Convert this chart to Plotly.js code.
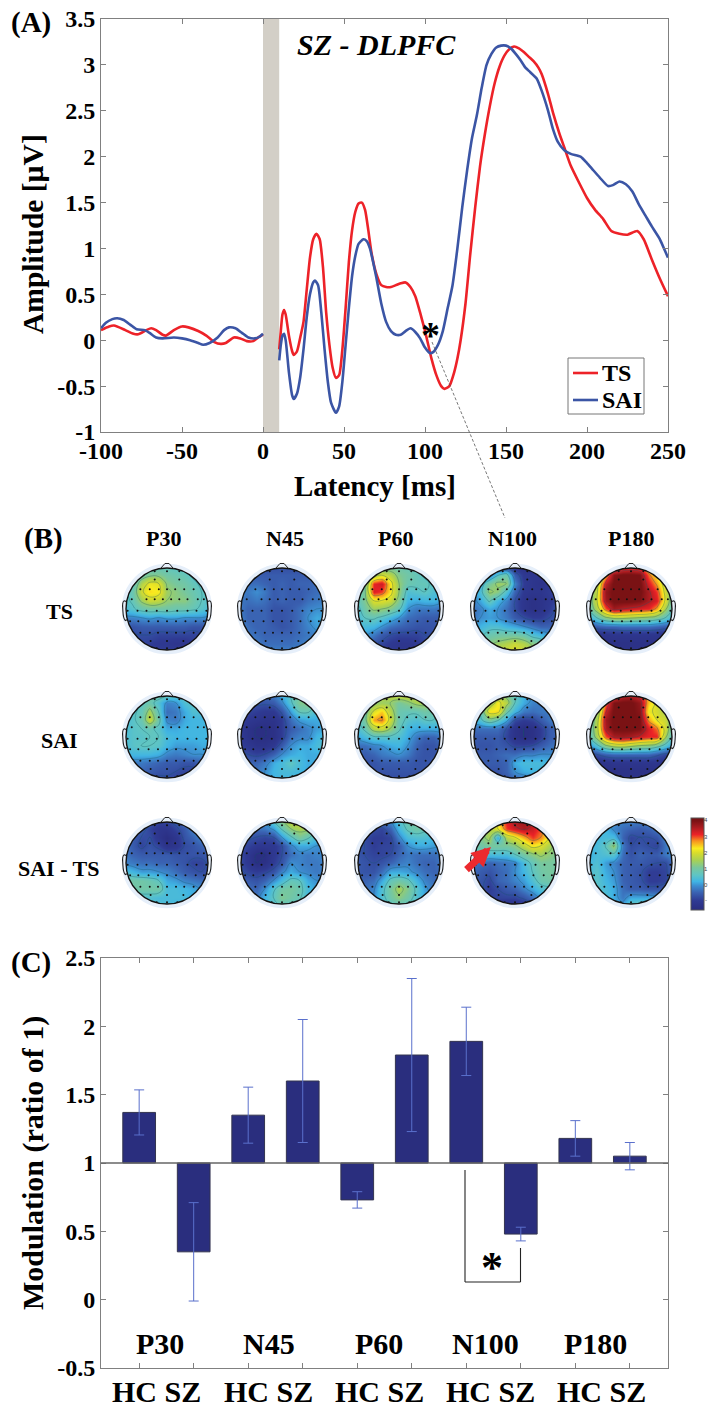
<!DOCTYPE html>
<html><head><meta charset="utf-8">
<script src="https://cdn.plot.ly/plotly-3.0.1.min.js"></script>
<style>html,body{margin:0;padding:0;background:#fff}</style></head>
<body><div id="chart" style="width:708px;height:1410px"></div>
<script>
// ---------- Panel A data ----------
const tsPreX=[-100,-95,-92,-85,-80,-77,-72,-69,-66,-62,-60,-55,-50,-46,-40,-35,-30,-26,-23,-18,-14,-10,-6,-3,0];
const tsPreY=[.11,.15,.16,.11,.07,.065,.11,.13,.11,.06,.05,.11,.15,.14,.10,.05,-.02,-.04,-.03,.03,.02,-.01,-.01,.03,.06];
const saiPreX=[-100,-97,-93,-90,-86,-82,-78,-73,-70,-66,-62,-55,-50,-45,-40,-37,-33,-28,-24,-21,-17,-13,-9,-5,-2,0];
const saiPreY=[.13,.19,.23,.24,.22,.17,.12,.11,.08,.03,.02,.03,.02,0,-.03,-.05,-.03,.03,.11,.14,.13,.08,.03,.02,.04,.07];
const tsPostX=[10,11,12,13,14,16,18,19,21,23,25,27,29,31,33,35,37,39,41,43,45,47,49,51,53,55,57,59,61,63,65,67,70,73,76,79,82,85,88,91,94,97,100,102,104,107,110,112,115,118,120,122,125,128,131,134,137,140,143,146,149,152,155,158,161,164,167,170,172,176,179,183,186,190,195,200,205,210,215,220,225,231,235,240,245,250];
const tsPostY=[-.1,.1,.28,.33,.28,.05,-.12,-.16,-.12,.03,.2,.55,.9,1.1,1.16,1.1,.8,.3,-.05,-.3,-.41,-.38,-.1,.35,.85,1.2,1.4,1.49,1.5,1.42,1.2,.95,.72,.6,.58,.58,.6,.62,.63,.58,.48,.3,.1,-.05,-.2,-.38,-.5,-.53,-.5,-.35,-.2,0,.4,.95,1.45,1.9,2.25,2.55,2.8,2.98,3.1,3.17,3.2,3.18,3.14,3.09,3.04,2.97,2.9,2.68,2.48,2.25,2.1,1.9,1.72,1.55,1.42,1.32,1.19,1.16,1.15,1.19,1.1,.88,.67,.48];
const saiPostX=[10,11,12,13,14,16,18,19,21,23,25,27,29,31,32,34,36,38,40,42,45,47,49,51,53,55,57,59,62,64,66,68,70,73,76,79,82,85,88,91,94,97,100,103,105,108,111,114,117,120,123,126,129,132,135,138,141,144,147,150,153,156,159,162,165,169,172,176,179,182,186,190,196,200,203,208,213,216,220,224,228,232,236,240,245,248,250];
const saiPostY=[-.22,-.05,.05,.07,0,-.35,-.6,-.64,-.58,-.4,-.1,.25,.5,.63,.65,.6,.3,-.1,-.45,-.68,-.79,-.72,-.45,-.05,.35,.7,.92,1.05,1.1,1.08,1,.85,.68,.4,.2,.1,.06,.06,.1,.13,.09,.02,-.08,-.14,-.13,-.05,.1,.35,.6,1,1.45,1.85,2.2,2.45,2.75,3,3.12,3.19,3.21,3.21,3.18,3.12,3.05,2.97,2.92,2.85,2.72,2.5,2.3,2.16,2.07,2.03,2,1.93,1.87,1.77,1.68,1.69,1.73,1.7,1.62,1.48,1.36,1.24,1.1,.98,.9];
const aYTicks=[-1,-.5,0,.5,1,1.5,2,2.5,3,3.5];
const aYLabels=['-1','-0.5','0','0.5','1','1.5','2','2.5','3','3.5'];
const aXTicks=[-100,-50,0,50,100,150,200,250];
const aXLabels=['-100','-50','0','50','100','150','200','250'];

// ---------- Panel C data ----------
const barPositions=[1,2,3,4,5,6,7,8,9,10];
const barValues=[1.37,.35,1.35,1.6,.73,1.79,1.89,.48,1.18,1.05];
const barErrors=[.165,.36,.205,.45,.06,.56,.25,.05,.13,.10];
const cYTicks=[-.5,0,.5,1,1.5,2,2.5];
const cYLabels=['-0.5','0','0.5','1','1.5','2','2.5'];
const components=['P30','N45','P60','N100','P180'];
const conditions=['TS','SAI','SAI - TS'];
const colorbarTicks=['4','3','2','1','0','-'];

// ---------- Panel B scalp maps (rows top to bottom, left to right, µV) ----------
const ts_p30=[[.3,.3,.4,.5,.6,.6,.5,.4,.3,.3,.3],[.3,.3,.8,1.1,1.1,.9,.8,.7,.5,.3,.2],[.3,.6,1.6,2.1,2,1.2,1,.9,.7,.5,.3],[.4,.8,1.9,2.3,2.2,1.4,1.2,1,.8,.6,.4],[.4,.7,1.4,1.8,1.7,1.3,1.2,1.2,.9,.6,.4],[.3,.5,.8,.9,.9,.9,.8,.8,.7,.5,.3],[-.2,-.2,-.1,0,-.1,0,0,-.1,-.1,-.1,-.2],[-.6,-.7,-.6,-.6,-.6,-.6,-.6,-.6,-.7,-.7,-.7],[-.7,-.8,-.8,-.8,-.9,-.9,-.9,-.9,-.9,-.8,-.7],[-.7,-.8,-.9,-1,-1.1,-1.1,-1.2,-1.2,-1,-.8,-.7],[-.7,-.8,-.9,-1,-1,-1,-1,-1,-.9,-.8,-.7]];
const ts_n45=[[-.8,-.8,-.8,-.8,-.8,-.8,-.8,-.8,-.8,-.8,-.8],[-.5,-.6,-.6,-.6,-.6,-.6,-.6,-.6,-.6,-.5,-.5],[-.3,-.4,-.4,-.5,-.6,-.5,-.6,-.5,-.5,-.4,-.3],[-.2,-.3,-.1,-.3,-.6,-.5,-.6,-.6,-.5,-.4,-.3],[-.3,-.4,-.3,-.4,-.6,-.5,-.6,-.6,-.4,-.3,-.2],[-.3,-.5,-.5,-.5,-.7,-.7,-.6,-.4,-.2,-.1,-.1],[-.2,-.5,-.5,-.5,-.7,-.7,-.6,-.4,-.1,.1,0],[-.1,-.4,-.5,-.5,-.6,-.7,-.6,-.4,-.2,0,0],[0,-.3,-.4,-.5,-.5,-.5,-.5,-.4,-.3,-.2,-.1],[0,-.2,-.3,-.4,-.4,-.4,-.4,-.3,-.2,-.1,0],[-.2,-.2,-.2,-.3,-.2,-.2,-.2,-.3,-.2,-.2,-.2]];
const ts_p60=[[.3,.4,.6,.7,.8,.8,.7,.5,.3,.2,.2],[.3,.6,1.4,1.9,1.6,1.1,.9,.7,.5,.3,.2],[.5,1,3.1,3.3,2.2,1.3,.8,.7,.7,.5,.2],[.5,1.1,3.2,3,2.2,1.3,.4,.5,.6,.4,.2],[.5,1.1,2,2,1.8,1.1,.2,.1,.2,.2,0],[.3,.9,1.4,1.3,1.1,.7,-.1,-.3,-.3,-.3,-.4],[.2,.6,.7,.5,.2,-.1,-.4,-.5,-.6,-.6,-.6],[.2,.3,.2,-.1,-.4,-.5,-.6,-.7,-.7,-.7,-.7],[0,0,-.3,-.6,-.8,-.9,-.9,-.9,-.8,-.7,-.7],[-.4,-.4,-.7,-.9,-1.1,-1.2,-1.2,-1.1,-.9,-.8,-.7],[-.7,-.7,-.8,-1,-1.2,-1.2,-1.2,-1.1,-.9,-.8,-.7]];
const ts_n100=[[-.8,-.9,-1,-1,-1.2,-1.4,-1.4,-1.4,-1.2,-1,-.8],[-.3,-.3,-.3,.5,.8,-.6,-1.1,-1.2,-1.2,-1,-.8],[-.2,.2,1,1.4,1.3,-.2,-1,-1.2,-1.3,-1.1,-.8],[-.2,.4,1.4,1.2,.4,-.5,-1.1,-1.2,-1.2,-1,-.8],[-.3,.1,.7,.2,-.2,-.8,-1.2,-1.4,-1.3,-1.1,-.8],[-.4,-.2,.1,-.1,-.4,-.8,-1.2,-1.4,-1.3,-1,-.7],[-.4,-.1,0,-.1,-.3,-.6,-.8,-1,-1,-.8,-.6],[-.1,.2,.4,.4,.2,.1,-.1,-.3,-.5,-.5,-.5],[.4,.5,.8,.9,.9,.9,.8,.4,.2,0,-.2],[.9,1,1.2,1.4,1.6,1.8,1.6,1.2,1,.5,.2],[1.2,1.4,1.5,1.7,1.9,2,1.8,1.5,1.2,.8,.4]];
const ts_p180=[[0,.4,1.2,2,2.6,2.8,2.6,2.2,1.5,.6,.2],[.2,1,2.5,3.8,4,4,3.9,2.8,2.2,1.2,.3],[.5,1.6,3.4,4,4,4,4,3.2,2.6,1.6,.5],[.6,1.8,3.7,4,4,4,4,3.5,3,1.8,.6],[.7,1.9,3.6,4,4,4,3.9,3.5,3.2,1.9,.6],[.6,1.6,2.9,3.6,3.4,3.3,3.2,3.1,2.6,1.4,.4],[.1,.6,1.2,1.5,1.5,1.4,1.3,1.2,1,.6,.1],[-.8,-.6,-.5,-.5,-.4,-.4,-.4,-.4,-.5,-.6,-.7],[-1.3,-1.3,-1.3,-1.2,-1.2,-1.2,-1.2,-1.2,-1.2,-1.3,-1.3],[-1.4,-1.4,-1.4,-1.4,-1.4,-1.4,-1.4,-1.4,-1.4,-1.4,-1.4],[-1.4,-1.4,-1.4,-1.4,-1.4,-1.4,-1.4,-1.4,-1.4,-1.4,-1.4]];
const sai_p30=[[.3,.6,.7,.9,1,.9,.7,.6,.4,.3,.2],[.3,.5,.6,.8,.4,-.2,-.1,.4,.5,.4,.3],[.3,.5,.7,1.5,.6,-.4,-.3,.1,.4,.4,.3],[.3,.5,.8,1.8,.8,-.2,-.3,.1,.2,.2,.2],[.3,.5,.6,.7,.5,.1,.1,.2,.2,.2,.2],[.3,.5,.5,.6,.6,.3,.2,.2,.2,.2,.2],[.3,.5,.6,.6,.5,.2,0,0,0,.1,.1],[.2,.2,.2,.2,.1,-.2,-.3,-.2,-.1,-.1,0],[-.3,-.3,-.3,-.4,-.5,-.6,-.6,-.7,-.7,-.5,-.3],[-.4,-.5,-.5,-.6,-.7,-.7,-.8,-.9,-.9,-.7,-.5],[-.5,-.6,-.7,-.8,-.9,-.9,-.9,-.9,-.9,-.7,-.5]];
const sai_n45=[[-.7,-.7,-.5,-.4,-.2,.2,.6,.9,1,.5,.2],[-.8,-.8,-.7,-.7,-.6,-.2,.5,1.1,1.2,.6,.2],[-.8,-.9,-1,-1.1,-1.1,-.7,0,.7,.7,.3,.2],[-.9,-1.1,-1.2,-1.3,-1.3,-1,-.4,0,.1,.1,.1],[-1,-1.3,-1.5,-1.5,-1.4,-1,-.6,-.4,-.2,0,.1],[-1,-1.3,-1.5,-1.5,-1.4,-1,-.4,-.2,-.2,.2,.3],[-.9,-1.1,-1.3,-1.3,-1.1,-.6,-.1,.1,.1,.3,.5],[-.7,-.8,-.9,-.8,-.5,-.1,.1,.2,.1,.1,.2],[-.6,-.5,-.5,-.3,.1,.3,.6,.3,.1,.1,.1],[-.5,-.4,-.3,-.1,.2,.3,.3,.2,.1,0,0],[-.5,-.4,-.3,-.1,.1,.2,.2,.1,0,-.1,-.1]];
const sai_p60=[[.4,.7,1.2,1.6,1.8,1.9,1.9,1.7,1.3,.6,.3],[.4,.7,1.2,1.4,1.3,1,1.2,1.5,1.5,1,.5],[.4,.9,2,2.4,1.6,.8,.7,.7,.9,.8,.4],[.4,1,2.6,2.8,1.8,.8,.5,.4,.6,.6,.4],[.3,.7,1.6,1.8,1.3,.7,.2,.1,.1,.1,.1],[0,.3,.5,.5,.5,.4,.1,-.3,-.5,-.5,-.3],[-.4,-.4,-.2,-.1,.1,.2,-.1,-.5,-.7,-.7,-.5],[-.5,-.6,-.5,-.3,-.2,-.1,-.3,-.6,-.7,-.7,-.5],[-.6,-.7,-.7,-.6,-.6,-.6,-.6,-.7,-.7,-.6,-.5],[-.6,-.7,-.7,-.7,-.7,-.7,-.7,-.7,-.7,-.6,-.5],[-.6,-.7,-.8,-.8,-.8,-.8,-.8,-.8,-.7,-.6,-.5]];
const sai_n100=[[-.2,0,.6,1.2,1,.7,.2,-.1,-.2,-.2,-.2],[-.1,.4,1.4,2.2,1.6,.6,.1,-.2,-.3,-.3,-.2],[0,.7,2.3,2.3,.8,.2,-.3,-.4,-.3,-.3,-.2],[0,.5,1.1,.7,.1,-.8,-1,-.9,-.6,-.3,-.2],[-.4,-.4,-.4,-.4,-.8,-1.3,-1.5,-1.4,-1,-.6,-.4],[-.6,-.6,-.6,-.6,-.9,-1.3,-1.5,-1.4,-1,-.6,-.5],[-.6,-.7,-.7,-.6,-.7,-.9,-.9,-.8,-.6,-.4,-.3],[-.6,-.6,-.6,-.5,-.4,-.4,-.2,-.2,-.1,-.1,-.1],[-.6,-.6,-.6,-.6,-.5,.1,.3,.3,.3,.2,.1],[-.7,-.7,-.7,-.7,-.5,-.1,.1,.2,.2,.1,0],[-.8,-.8,-.8,-.8,-.7,-.5,-.4,-.3,-.2,-.1,-.1]];
const sai_p180=[[0,.5,1.6,2.6,3.2,3.4,3,2.6,1.4,.6,.2],[.2,.8,2.8,3.9,4,4,3.7,2.4,1.9,1,.3],[.3,1.2,3.3,4,4,4,3.8,2.1,1.9,1.5,.4],[.4,1.6,3.6,4,4,4,3.9,2.6,2,1.8,.5],[.5,1.7,3.5,4,4,4,3.9,3.2,2.8,1.8,.5],[.4,1.5,2.9,3.5,3.6,3.5,3.3,3.1,3.1,1.4,.3],[-.2,.4,1.2,1.6,1.7,1.5,1.3,1.2,.9,.4,-.1],[-1,-.8,-.6,-.5,-.5,-.5,-.5,-.5,-.7,-.9,-1],[-1.3,-1.3,-1.3,-1.2,-1.2,-1.2,-1.2,-1.2,-1.2,-1.3,-1.3],[-1.4,-1.4,-1.4,-1.4,-1.4,-1.4,-1.4,-1.4,-1.4,-1.4,-1.4],[-1.4,-1.4,-1.4,-1.4,-1.4,-1.4,-1.4,-1.4,-1.4,-1.4,-1.4]];
const diff_p30=[[-.2,-.2,-.4,-.6,-.8,-.8,-.6,-.4,-.1,.1,.1],[-.3,-.4,-.6,-.9,-1.2,-1.2,-.9,-.6,-.2,0,.1],[-.3,-.6,-.8,-.8,-1.2,-1.5,-1.2,-.7,-.5,-.2,-.1],[-.3,-.6,-.9,-.7,-.9,-1.3,-1.2,-.8,-.7,-.5,-.4],[-.3,-.5,-.6,-.6,-.6,-.6,-.7,-.7,-.7,-.7,-.5],[-.2,-.3,-.4,-.4,-.5,-.5,-.6,-.7,-.9,-.9,-.7],[.4,.2,0,0,-.1,-.2,-.4,-.6,-.7,-.8,-.7],[.9,.9,.9,.8,.6,.1,0,-.2,-.3,-.4,-.4],[.9,.9,.9,.9,.9,.3,.3,.2,.1,-.1,-.1],[.4,.3,.4,.4,.3,.3,.3,.3,.1,0,0],[.1,.2,.4,.6,.4,.3,.2,.2,.1,.1,.1]];
const diff_n45=[[-.3,-.3,-.2,0,.7,1.3,1.8,1.9,1.6,.8,.3],[-.4,-.4,-.4,-.3,0,.7,1.3,1.5,1.4,.7,.3],[-.5,-.7,-.8,-.9,-.8,-.1,.5,1,.7,.3,.2],[-.7,-.9,-1.1,-1.1,-1.1,-.8,-.2,.1,.1,-.1,-.1],[-.8,-1.1,-1.5,-1.5,-1.1,-.8,-.4,-.2,-.3,-.2,-.2],[-.8,-1.1,-1.5,-1.4,-1,-.7,-.1,-.2,-.3,-.3,-.2],[-.7,-.9,-1,-.9,-.7,-.2,.1,-.1,-.2,-.3,-.2],[-.5,-.6,-.7,-.5,-.1,.3,.7,.6,.1,-.1,-.1],[-.4,-.4,-.5,-.1,.5,.9,1,.8,.3,0,-.1],[-.4,-.4,-.3,.2,.6,1.1,.9,.7,.2,0,-.1],[-.4,-.4,-.3,.1,.4,.6,.5,.4,.2,-.1,-.1]];
const diff_p60=[[-.3,-.3,-.2,-.1,0,.5,.8,.8,.6,.3,.1],[-.4,-.6,-.8,-.9,-.5,.2,.7,.9,.7,.3,.1],[-.5,-.8,-1,-1,-.9,-.2,.3,.4,.4,.2,.1],[-.6,-.8,-1,-.9,-.9,-.6,-.1,.1,.1,0,-.1],[-.6,-.8,-.9,-.9,-.8,-.5,-.3,-.4,-.4,-.4,-.3],[-.6,-.7,-.8,-.7,-.5,-.3,-.2,-.4,-.5,-.5,-.3],[-.6,-.7,-.7,-.4,.1,.1,0,-.2,-.4,-.5,-.4],[-.5,-.5,-.4,.1,.7,.9,.7,.2,-.2,-.4,-.4],[-.4,-.4,-.2,.4,1,1.5,1.1,.5,0,-.3,-.3],[-.3,-.3,-.1,.4,.9,1.2,.9,.4,.1,-.2,-.2],[-.2,-.2,0,.2,.5,.6,.5,.3,.1,-.1,-.1]];
const diff_n100=[[.6,1,1.4,2.4,3.2,3.6,3.7,3.5,3,2,1],[.7,1.1,1.6,2,3,3.3,3.5,3.3,2.9,2.2,1],[.7,1.1,1.5,.1,1.6,2,2.5,3,2.7,2,1],[.7,.9,1,1,1,1.2,1.7,2.2,2,1.5,1],[.5,.5,.3,.3,.3,.6,.9,1.2,1.4,1.2,1],[-.3,-.4,-.5,-.4,-.3,-.2,.3,.7,1,1,.9],[-.4,-.6,-.7,-.5,-.4,-.1,.2,.6,.9,1,.9],[-.5,-.7,-.9,-.5,-.4,-.2,0,.4,.8,.9,.8],[-.6,-.7,-1,-.8,-.6,-.5,-.2,.1,.4,.5,.5],[-.6,-.7,-.9,-.9,-.9,-.9,-.7,-.4,0,.2,.2],[-.8,-.9,-1.1,-1.3,-1.4,-1.4,-1.3,-1,-.5,-.2,0]];
const diff_p180=[[.1,.2,.2,0,-.2,-.2,-.2,-.1,.1,.2,.2],[.1,.2,.2,-.2,-.4,-.5,-.6,-.5,-.3,0,.1],[.1,.2,.3,.3,-.5,-.9,-.8,-.8,-.7,-.2,0],[.1,.3,.6,1.4,-.3,-.8,-.7,-.8,-.9,-.3,0],[.1,.3,.4,.5,-.4,-.7,-.5,-.6,-.6,-.3,-.1],[.2,.4,0,-.2,-.5,-.6,-.6,-.7,-.8,-.8,-.3],[.3,.5,.1,-.1,-.5,-.6,-.7,-1,-1,-.9,-.4],[.3,.5,.2,0,-.5,-.6,-.7,-1,-1,-.9,-.4],[.4,.5,.3,.1,-.4,-.6,-.6,-.7,-.7,-.6,-.3],[.4,.5,.4,.1,-.3,.1,.1,.1,0,-.1,-.1],[.4,.5,.6,.3,.1,.7,.8,.6,.3,.1,0]];
const scalpMaps=[ts_p30,ts_n45,ts_p60,ts_n100,ts_p180,sai_p30,sai_n45,sai_p60,sai_n100,sai_p180,diff_p30,diff_n45,diff_p60,diff_n100,diff_p180];
const elecRows=[[.92,[-.3,0,.3]],[.72,[-.3,.3]],[.48,[-.65,-.42,-.2,0,.2,.42,.65]],[.24,[-.86,-.5,-.3,-.1,.1,.3,.5,.75,.9]],[-.04,[-.96,-.72,-.5,-.25,0,.25,.5,.72,.96]],[-.3,[-.9,-.7,-.45,-.22,0,.22,.45,.7,.9]],[-.58,[-.65,-.42,-.22,0,.22,.42,.65]],[-.78,[-.4,0,.4]],[-.96,[-.25,0,.25]]];
const colorStops=[[0,'#2a2d80'],[.1,'#2f3a93'],[.19,'#3a62b2'],[.26,'#3d8ccf'],[.31,'#40b5e4'],[.38,'#5fc5c4'],[.46,'#79c79c'],[.54,'#a8d154'],[.62,'#d8dc2c'],[.67,'#f9ec1f'],[.75,'#f7931e'],[.82,'#ec2227'],[.9,'#a81c20'],[.97,'#7a1214'],[1,'#7a1214']];

// ---------- helpers ----------
const W=708,H=1410;
const fx=p=>p/W, fy=p=>1-p/H;
const serif='"Liberation Serif","Times New Roman",serif';
const tfont=(s,o)=>Object.assign({family:serif,size:s,weight:'bold',color:'#000'},o||{});
const headCols=[167,282,399,515,631], headRows=[609,737,863], R=41, SPAN=1.4;
const gridPts=Array.from({length:11},(_,i)=>-1.05+i*.21);
function circ(r){const k=.5523*r;return `M${r},0 C${r},${k} ${k},${r} 0,${r} C${-k},${r} ${-r},${k} ${-r},0 C${-r},${-k} ${-k},${-r} 0,${-r} C${k},${-r} ${r},${-k} ${r},0 Z`;}

const traces=[], shapes=[], annotations=[];
const layout={width:W,height:H,margin:{l:0,r:0,t:0,b:0},paper_bgcolor:'#fff',plot_bgcolor:'rgba(0,0,0,0)',showlegend:false,
 coloraxis:{cmin:-1.6,cmax:4.1,colorscale:colorStops,colorbar:{x:fx(691),xanchor:'left',y:fy(910),yanchor:'bottom',lenmode:'pixels',len:92,thicknessmode:'pixels',thickness:13,outlinecolor:'#555',outlinewidth:1,showticklabels:false,ticks:'',ypad:0,xpad:0}}};

const axBase={showgrid:false,zeroline:false,showline:true,linecolor:'#808080',linewidth:1,mirror:'allticks',ticks:'inside',ticklen:5,tickcolor:'#808080',tickfont:tfont(24),fixedrange:true};
layout.xaxis=Object.assign({},axBase,{domain:[fx(101),fx(668)],range:[-100,250],tickvals:aXTicks,ticktext:aXLabels,anchor:'y',ticklabelstandoff:-3});
layout.yaxis=Object.assign({},axBase,{domain:[fy(432),fy(19)],range:[-1,3.5],tickvals:aYTicks,ticktext:aYLabels,anchor:'x'});
layout.xaxis2=Object.assign({},axBase,{domain:[fx(101),fx(668)],range:[.3,10.7],tickvals:barPositions,showticklabels:false,anchor:'y2'});
layout.yaxis2=Object.assign({},axBase,{domain:[fy(1368),fy(958)],range:[-.5,2.5],tickvals:cYTicks,ticktext:cYLabels,anchor:'x2'});

// Panel A
shapes.push({type:'rect',xref:'x',yref:'y',x0:0,x1:10,y0:-1,y1:3.5,fillcolor:'#d3cfc7',line:{width:0},layer:'below'});
const red='#ed2228',blue='#3b55a5';
const line=(x,y,c,name)=>({type:'scatter',mode:'lines',x,y,name,line:{color:c,width:2.6,shape:'spline',smoothing:.6},xaxis:'x',yaxis:'y'});
traces.push(line(tsPreX,tsPreY,red,'TS'),line(saiPreX,saiPreY,blue,'SAI'),line(tsPostX,tsPostY,red,'TS'),line(saiPostX,saiPostY,blue,'SAI'));

// Panel C
traces.push({type:'bar',x:barPositions,y:barValues.map(v=>v-1),base:barValues.map(()=>1),width:.6,xaxis:'x2',yaxis:'y2',marker:{color:'#2a2e7e',line:{color:'#33344f',width:1}},
 error_y:{type:'data',array:barErrors,visible:true,color:'#5a70cc',thickness:1,width:5}});
shapes.push({type:'line',xref:'x2',yref:'y2',x0:.3,x1:10.7,y0:1,y1:1,line:{color:'#666',width:1.5}});

// Panel B heads
const ex=[],ey=[];elecRows.forEach(([y,xs])=>xs.forEach(x=>{ex.push(x);ey.push(y);}));
scalpMaps.forEach((m,k)=>{
  const n=k+3,xa='x'+n,ya='y'+n,cx=headCols[k%5],cy=headRows[Math.floor(k/5)],h=R*SPAN;
  layout['xaxis'+n]={domain:[fx(cx-h),fx(cx+h)],range:[-SPAN,SPAN],visible:false,anchor:ya,fixedrange:true};
  layout['yaxis'+n]={domain:[fy(cy+h),fy(cy-h)],range:[-SPAN,SPAN],visible:false,anchor:xa,fixedrange:true};
  const z=m.slice().reverse();
  traces.push({type:'heatmap',x:gridPts,y:gridPts,z,zsmooth:'best',coloraxis:'coloraxis',xaxis:xa,yaxis:ya,hoverinfo:'skip'});
  traces.push({type:'contour',x:gridPts,y:gridPts,z,showscale:false,contours:{coloring:'none',start:-1.5,end:4,size:.7},line:{color:'rgba(20,85,100,.55)',width:.6,smoothing:1.2},xaxis:xa,yaxis:ya,hoverinfo:'skip'});
  traces.push({type:'scatter',mode:'markers',x:ex,y:ey,marker:{size:2,color:'#111'},xaxis:xa,yaxis:ya,hoverinfo:'skip'});
  const s=(o)=>Object.assign({type:'path',xref:xa,yref:ya,layer:'above'},o);
  const S=SPAN;
  shapes.push(s({path:`M${-S},${-S} L${S},${-S} L${S},${S} L${-S},${S} Z ${circ(1)}`,fillcolor:'#fff',fillrule:'evenodd',line:{width:0}}));
  shapes.push(s({path:circ(1.06),line:{color:'#e6effa',width:3.5}}));
  shapes.push(s({path:circ(1),line:{color:'#111',width:1.4}}));
  shapes.push(s({path:'M-.16,.985 L-.05,1.11 L.05,1.11 L.16,.985',line:{color:'#222',width:1}}));
  shapes.push(s({path:'M-.995,.18 L-1.04,.2 C-1.08,.2 -1.09,.1 -1.08,.02 C-1.07,-.1 -1.08,-.22 -1.02,-.28 L-.97,-.26',line:{color:'#222',width:1.1}}));
  shapes.push(s({path:'M.995,.18 L1.04,.2 C1.08,.2 1.09,.1 1.08,.02 C1.07,-.1 1.08,-.22 1.02,-.28 L.97,-.26',line:{color:'#222',width:1.1}}));
});

// Annotations
const note=(text,x,y,size,o)=>annotations.push(Object.assign({text,xref:'paper',yref:'paper',x:fx(x),y:fy(y),showarrow:false,xanchor:'center',yanchor:'middle',font:tfont(size)},o||{}));
note('(A)',31,22,29);note('(B)',43,538,29);note('(C)',31,962,29);
note('SZ - DLPFC',377,45,30,{font:tfont(30,{style:'italic'})});
note('Amplitude [µV]',33,234,29.5,{textangle:-90});
note('Latency [ms]',375,486,29);
note('Modulation (ratio of 1)',33,1163,30,{textangle:-90});
note('*',430,335,38);
components.forEach((c,i)=>note(c,[163,285,396,512,631][i],538,22));
conditions.forEach((c,i)=>note(c,59,[611,740,868][i],22));
components.forEach((c,i)=>note(c,[160,269,379,486,595][i],1343,30));
components.forEach((c,i)=>note('HC SZ',[156,268,379,490,601][i],1391,30));
note('*',492,1267,44);
colorbarTicks.forEach((c,i)=>note(c,705.5,[820,837,853,869,885,900][i],6,{font:{family:'Liberation Sans',size:6,color:'#444'}}));

// Legend (panel A)
shapes.push({type:'rect',xref:'paper',yref:'paper',x0:fx(568),x1:fx(644),y0:fy(414),y1:fy(358),fillcolor:'#fff',line:{color:'#777',width:1},layer:'above'});
const pxLine=(x0,y0,x1,y1,l)=>shapes.push({type:'line',xref:'paper',yref:'paper',x0:fx(x0),x1:fx(x1),y0:fy(y0),y1:fy(y1),line:l,layer:'above'});
pxLine(573,373,598,373,{color:red,width:2.6});
pxLine(573,400,598,400,{color:blue,width:2.6});
note('TS',600,373,24,{xanchor:'left'});
note('SAI',600,400,24,{xanchor:'left'});

// Arrow, dashed link, bracket
annotations.push({xref:'paper',yref:'paper',x:fx(491),y:fy(847),text:'',showarrow:true,ax:-26,ay:24,arrowhead:2,arrowsize:.55,arrowwidth:7,arrowcolor:'#ec2a2e',standoff:0});
pxLine(432,342,505,518,{color:'#555',width:.8,dash:'3px,2px'});
const bl={color:'#222',width:1.1};
pxLine(465,1170,465,1282,bl);pxLine(465,1282,520.5,1282,bl);pxLine(520.5,1282,520.5,1248,bl);

layout.shapes=shapes;layout.annotations=annotations;
Plotly.newPlot('chart',traces,layout,{displayModeBar:false,staticPlot:true});
</script></body></html>
